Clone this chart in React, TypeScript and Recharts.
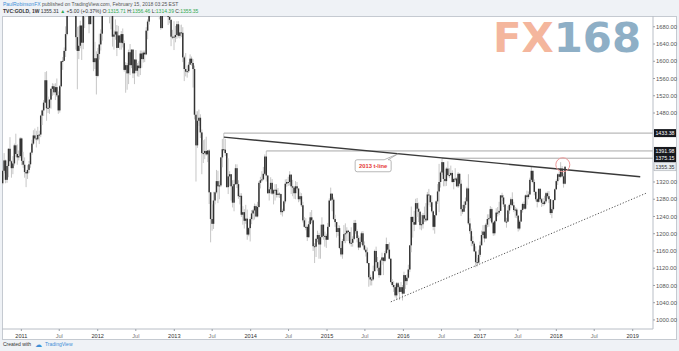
import { ComposedChart, Bar, XAxis, YAxis, ReferenceLine, ReferenceDot } from "recharts";

// weekly bars, first bar = week of 2010-10-04
const START = "2010-10-04";
const WEEK = 7 * 24 * 3600 * 1000;
const firstOpen = 1317;

const closes = [
  1346, 1370, 1325, 1357, 1397, 1368, 1352, 1363, 1405, 1385, 1377, 1380, 1421,
  1369, 1360, 1343, 1340, 1348, 1361, 1388, 1409, 1428, 1421, 1419, 1429, 1430, 1474, 1486, 1504, 1556, 1491, 1492, 1511, 1536, 1542, 1528, 1540, 1521, 1486, 1542, 1600, 1601, 1624, 1663, 1743, 1852, 1828, 1877, 1856, 1813, 1656, 1624, 1636, 1683, 1643, 1745, 1755, 1788, 1724, 1686, 1746, 1713, 1598, 1607, 1566,
  1617, 1639, 1664, 1737, 1725, 1725, 1736, 1774, 1710, 1711, 1657, 1662, 1669, 1631, 1660, 1643, 1663, 1642, 1580, 1591, 1572, 1621, 1591, 1627, 1572, 1604, 1578, 1590, 1584, 1618, 1605, 1620, 1616, 1671, 1692, 1741, 1771, 1773, 1773, 1780, 1757, 1724, 1711, 1677, 1730, 1714, 1752, 1714, 1703, 1696, 1657, 1657, 1656,
  1661, 1686, 1659, 1667, 1666, 1609, 1582, 1576, 1577, 1592, 1606, 1596, 1582, 1476, 1405, 1462, 1469, 1435, 1387, 1387, 1392, 1384, 1393, 1296, 1234, 1223, 1277, 1296, 1322, 1310, 1312, 1377, 1396, 1395, 1387, 1308, 1333, 1338, 1310, 1272, 1315, 1352, 1315, 1287, 1288, 1244, 1250, 1230, 1235, 1198, 1213, 1234,
  1247, 1254, 1264, 1240, 1262, 1318, 1324, 1326, 1339, 1379, 1335, 1294, 1303, 1318, 1293, 1301, 1302, 1290, 1293, 1292, 1250, 1253, 1275, 1316, 1320, 1320, 1337, 1310, 1307, 1294, 1310, 1305, 1280, 1287, 1266, 1231, 1216, 1216, 1192, 1222, 1238, 1231, 1171, 1170, 1188, 1197, 1175, 1192, 1221, 1195, 1195, 1186,
  1216, 1277, 1293, 1279, 1234, 1227, 1204, 1213, 1167, 1152, 1183, 1199, 1201, 1207, 1204, 1178, 1179, 1188, 1225, 1206, 1190, 1168, 1181, 1201, 1173, 1163, 1157, 1132, 1099, 1094, 1094, 1113, 1160, 1134, 1121, 1104, 1138, 1145, 1137, 1155, 1176, 1163, 1142, 1088, 1081, 1076, 1057, 1085, 1076, 1065, 1076, 1061,
  1104, 1090, 1098, 1117, 1173, 1239, 1227, 1221, 1271, 1258, 1251, 1220, 1222, 1243, 1235, 1231, 1291, 1289, 1273, 1252, 1216, 1243, 1275, 1298, 1320, 1342, 1366, 1327, 1322, 1351, 1336, 1336, 1341, 1320, 1327, 1328, 1310, 1339, 1316, 1257, 1251, 1267, 1275, 1305, 1224, 1206, 1183, 1177, 1159, 1134, 1133, 1151,
  1173, 1197, 1205, 1189, 1221, 1234, 1236, 1257, 1226, 1201, 1229, 1249, 1249, 1253, 1289, 1284, 1268, 1228, 1228, 1254, 1267, 1280, 1266, 1255, 1256, 1242, 1212, 1228, 1255, 1269, 1258, 1289, 1285, 1291, 1325, 1346, 1320, 1297, 1280, 1274, 1304, 1280, 1272, 1269, 1275, 1294, 1287, 1280, 1248, 1257, 1278, 1303,
  1322, 1338, 1332, 1351, 1333, 1316, 1355.35,
];

const highs = [
  1349, 1387, 1372, 1360, 1398, 1424, 1370, 1380, 1409, 1432, 1407, 1393, 1424,
  1423, 1390, 1377, 1346, 1359, 1369, 1390, 1418, 1440, 1444, 1439, 1448, 1439, 1476, 1488, 1510, 1575, 1577, 1518, 1512, 1538, 1549, 1548, 1549, 1560, 1530, 1545, 1600, 1610, 1632, 1681, 1814, 1878, 1913, 1890, 1921, 1838, 1833, 1680, 1681, 1694, 1671, 1748, 1765, 1802, 1791, 1728, 1761, 1763, 1715, 1645, 1623,
  1631, 1664, 1674, 1740, 1764, 1761, 1745, 1790, 1792, 1727, 1714, 1672, 1697, 1684, 1682, 1654, 1670, 1676, 1648, 1598, 1596, 1627, 1640, 1628, 1628, 1605, 1626, 1596, 1600, 1625, 1625, 1625, 1625, 1679, 1697, 1743, 1777, 1780, 1787, 1796, 1788, 1754, 1728, 1723, 1738, 1736, 1754, 1755, 1725, 1723, 1698, 1673, 1693,
  1682, 1693, 1693, 1684, 1685, 1679, 1613, 1619, 1590, 1598, 1616, 1611, 1605, 1590, 1484, 1484, 1488, 1477, 1442, 1417, 1419, 1425, 1394, 1396, 1297, 1268, 1297, 1298, 1348, 1346, 1323, 1378, 1420, 1433.38, 1420, 1387, 1375, 1345, 1338, 1324, 1325, 1361, 1361, 1324, 1294, 1294, 1264, 1257, 1267, 1256, 1215, 1238,
  1255, 1257, 1270, 1268, 1274, 1322, 1332, 1345, 1355, 1384, 1391.98, 1336, 1308, 1331, 1327, 1304, 1315, 1315, 1306, 1296, 1293, 1258, 1277, 1326, 1327, 1332, 1345, 1338, 1325, 1311, 1322, 1320, 1302, 1296, 1294, 1274, 1239, 1236, 1221, 1229, 1250, 1255, 1233, 1178, 1190, 1207, 1202, 1221, 1238, 1222, 1205, 1200,
  1225, 1282, 1307, 1292, 1284, 1244, 1226, 1220, 1219, 1175, 1188, 1220, 1224, 1215, 1209, 1205, 1215, 1194, 1232, 1232, 1210, 1196, 1193, 1205, 1206, 1182, 1170, 1168, 1132, 1105, 1100, 1126, 1163, 1170, 1146, 1124, 1141, 1156, 1140, 1160, 1191, 1176, 1180, 1143, 1095, 1090, 1080, 1088, 1088, 1080, 1088, 1081,
  1112, 1100, 1106, 1128, 1174, 1263, 1240, 1253, 1281, 1283, 1272, 1253, 1244, 1248, 1263, 1271, 1297, 1304, 1289, 1289, 1254, 1243, 1277, 1315, 1362, 1345, 1375.15, 1357, 1336, 1354, 1368, 1352, 1358, 1347, 1330, 1352, 1331, 1343, 1340, 1325, 1267, 1275, 1284, 1309, 1338, 1236, 1212, 1194, 1181, 1171, 1144, 1163,
  1182, 1207, 1220, 1220, 1225, 1245, 1245, 1264, 1261, 1228, 1232, 1259, 1262, 1274, 1289, 1295, 1290, 1268, 1237, 1264, 1270, 1284, 1296, 1274, 1262, 1260, 1242, 1232, 1257, 1272, 1275, 1291, 1300, 1298, 1330, 1357, 1338, 1326, 1299, 1283, 1306, 1306, 1283, 1283, 1288, 1297, 1298, 1299, 1280, 1261, 1279, 1305,
  1326, 1340, 1344, 1366, 1357, 1340, 1356.46,
];

const lows = [
  1313, 1340, 1317, 1318, 1331, 1366, 1330, 1338, 1358, 1378, 1360, 1370, 1376,
  1359, 1353, 1330, 1308, 1327, 1341, 1353, 1383, 1406, 1416, 1400, 1416, 1408, 1424, 1452, 1473, 1503, 1462, 1480, 1478, 1490, 1520, 1522, 1510, 1517, 1478, 1481, 1540, 1580, 1601, 1610, 1660, 1740, 1705, 1795, 1813, 1777, 1627, 1535, 1605, 1630, 1603, 1628, 1677, 1734, 1711, 1665, 1689, 1705, 1577, 1582, 1523,
  1563, 1604, 1625, 1648, 1709, 1708, 1705, 1731, 1688, 1674, 1634, 1627, 1650, 1612, 1639, 1627, 1627, 1632, 1576, 1527, 1534, 1547, 1568, 1584, 1561, 1547, 1573, 1565, 1564, 1568, 1585, 1597, 1598, 1614, 1651, 1685, 1722, 1754, 1749, 1765, 1754, 1718, 1697, 1673, 1676, 1704, 1714, 1705, 1684, 1688, 1635, 1651, 1626,
  1644, 1652, 1655, 1653, 1656, 1598, 1554, 1565, 1562, 1573, 1600, 1590, 1539, 1465, 1321, 1399, 1450, 1422, 1338, 1364, 1373, 1381, 1366, 1269, 1180, 1207, 1211, 1268, 1293, 1271, 1280, 1308, 1354, 1391, 1380, 1307, 1292, 1310, 1277, 1261, 1252, 1313, 1306, 1281, 1268, 1239, 1221, 1212, 1223, 1186, 1194, 1182,
  1222, 1231, 1233, 1238, 1238, 1260, 1305, 1320, 1324, 1336, 1321, 1292, 1277, 1293, 1290, 1268, 1277, 1284, 1284, 1283, 1244, 1240, 1250, 1270, 1309, 1311, 1312, 1292, 1287, 1281, 1280, 1301, 1273, 1275, 1262, 1226, 1214, 1208, 1183, 1190, 1222, 1225, 1160, 1132, 1146, 1180, 1142, 1142, 1193, 1186, 1170, 1167,
  1186, 1220, 1276, 1252, 1232, 1216, 1191, 1195, 1164, 1147, 1142, 1178, 1178, 1183, 1183, 1175, 1170, 1170, 1185, 1200, 1180, 1162, 1170, 1175, 1170, 1160, 1147, 1130, 1077, 1080, 1080, 1091, 1113, 1117, 1113, 1098, 1103, 1128, 1104, 1134, 1152, 1159, 1140, 1085, 1077, 1065, 1052, 1046, 1061, 1046, 1066, 1045,
  1061, 1072, 1081, 1096, 1111, 1157, 1191, 1206, 1225, 1239, 1227, 1210, 1208, 1212, 1227, 1227, 1232, 1266, 1262, 1249, 1208, 1200, 1241, 1269, 1250, 1307, 1336, 1310, 1310, 1311, 1333, 1329, 1334, 1318, 1303, 1322, 1308, 1306, 1310, 1241, 1246, 1252, 1259, 1275, 1220, 1200, 1171, 1171, 1158, 1122, 1124, 1131,
  1146, 1175, 1190, 1180, 1189, 1215, 1216, 1229, 1223, 1195, 1196, 1229, 1240, 1243, 1253, 1276, 1262, 1226, 1214, 1228, 1246, 1259, 1264, 1250, 1237, 1236, 1205, 1208, 1231, 1249, 1256, 1256, 1267, 1280, 1291, 1320, 1317, 1289, 1275, 1261, 1272, 1276, 1262, 1264, 1266, 1271, 1282, 1271, 1244, 1236, 1254, 1277,
  1302, 1313, 1325, 1329, 1331, 1307, 1314.39,
];

const yTicks = [1000, 1040, 1080, 1120, 1160, 1200, 1240, 1280, 1320, 1480, 1520, 1560, 1600, 1640, 1680];
const xTickDates = [
  "2011-01-01", "2011-07-01", "2012-01-01", "2012-07-01", "2013-01-01", "2013-07-01",
  "2014-01-01", "2014-07-01", "2015-01-01", "2015-07-01", "2016-01-01", "2016-07-01",
  "2017-01-01", "2017-07-01", "2018-01-01", "2018-07-01", "2019-01-01",
];

// horizontal levels drawn from the bar that made them
const levels = [1433.38, 1391.98, 1375.15];
const levelFrom = ["2013-08-26", "2014-03-17", "2016-07-04"];
const lastPrice = 1355.35;

const tLine: [string, number][] = [["2013-08-26", 1424], ["2019-02-06", 1332]];
const supportLine: [string, number][] = [["2015-11-02", 1042], ["2019-03-11", 1295]];
const calloutAt = "2015-12-07";
const circleAt: [string, number] = ["2018-02-01", 1360];

const idx = (d: string) => (Date.parse(d) - Date.parse(START)) / WEEK;
const X_MAX = 444;

const data = closes.map((c, i) => ({
  i,
  o: i === 0 ? firstOpen : closes[i - 1],
  h: highs[i],
  l: lows[i],
  c,
}));

const FONT = "'Liberation Sans', Arial, sans-serif";

const Candle = (props: any) => {
  const { x, y, width, height, payload } = props;
  if (!payload || !Number.isFinite(y) || !Number.isFinite(height)) return null;
  const { o, h, l, c } = payload;
  const top = height >= 0 ? y : y + height;
  const span = Math.abs(height);
  const ppu = h > l ? span / (h - l) : 0;
  const cx = x + width / 2;
  const bTop = top + (h - Math.max(o, c)) * ppu;
  const bH = Math.max(1, Math.abs(o - c) * ppu);
  return (
    <g>
      <line x1={cx} x2={cx} y1={top} y2={top + span} stroke="#c6c6c6" strokeWidth={1} />
      <rect x={cx - 0.75} y={bTop} width={1.5} height={bH} fill="#333" />
    </g>
  );
};

const XTick = (props: any) => {
  const { x, y, payload } = props;
  const d = xTickDates[payload.index] ?? "";
  const isYear = d.slice(5, 7) === "01";
  const label = isYear ? d.slice(0, 4) : "Jul";
  return (
    <text x={x} y={y + 5} textAnchor="middle" fontSize={5.6} fontFamily={FONT} fill={isYear ? "#333" : "#777"}>
      {label}
    </text>
  );
};

const PriceTag = (props: any) => {
  const { viewBox, value, light } = props;
  if (!viewBox) return null;
  const x = viewBox.x + viewBox.width + 1;
  const y = viewBox.y;
  return (
    <g>
      <rect x={x} y={y - 4} width={22} height={8} fill={light ? "#eceff3" : "#16181d"} stroke={light ? "#a9adb3" : "none"} strokeWidth={0.6} />
      <text x={x + 11} y={y + 2} textAnchor="middle" fontSize={5.3} fontFamily={FONT} fill={light ? "#333" : "#fff"}>
        {value.toFixed(2)}
      </text>
    </g>
  );
};

const Callout = (props: any) => {
  const { cx, cy } = props;
  if (!Number.isFinite(cx)) return null;
  const L = cx - 43, R = cx - 7, T = cy + 6, B = cy + 18, r = 2;
  const path = `M${L + r},${T} H${R - 7} L${cx},${cy} L${R - 3},${T} H${R - r} Q${R},${T} ${R},${T + r} V${B - r} Q${R},${B} ${R - r},${B} H${L + r} Q${L},${B} ${L},${B - r} V${T + r} Q${L},${T} ${L + r},${T} Z`;
  return (
    <g>
      <path d={path} fill="#fff" stroke="#9a9a9a" strokeWidth={0.7} />
      <text x={(L + R) / 2} y={(T + B) / 2 + 2} textAnchor="middle" fontSize={5.8} fontWeight="bold" fontFamily={FONT} fill="#e53935">
        2013 t-line
      </text>
    </g>
  );
};

const tAt = (d: string) => {
  const [a, b] = tLine;
  const t = (idx(d) - idx(a[0])) / (idx(b[0]) - idx(a[0]));
  return a[1] + (b[1] - a[1]) * t;
};

export default function App() {
  return (
    <div style={{ position: "fixed", left: 0, top: 0, width: 679, height: 351, background: "#eff2f6", overflow: "hidden" }}>
      <div style={{ position: "absolute", left: 2, top: 16, width: 675, height: 324, background: "#fff", border: "1px solid #c5cad1", boxSizing: "border-box" }} />
      <div style={{ position: "absolute", left: 0, top: 0 }}>
        <ComposedChart width={679} height={351} data={data} margin={{ top: 16, right: 3, bottom: 12, left: 2 }}>
          <XAxis
            type="number"
            dataKey="i"
            domain={[-0.5, X_MAX]}
            allowDataOverflow
            ticks={xTickDates.map(idx)}
            interval={0}
            tick={<XTick />}
            tickSize={2}
            tickLine={{ stroke: "#9aa0a8" }}
            axisLine={{ stroke: "#b9bec6" }}
            height={10}
          />
          <YAxis
            orientation="right"
            domain={[979, 1705]}
            allowDataOverflow
            ticks={yTicks}
            interval={0}
            tickFormatter={(v: number) => v.toFixed(2)}
            tick={{ fontSize: 5.8, fill: "#555", fontFamily: FONT }}
            tickSize={2}
            tickMargin={1}
            tickLine={{ stroke: "#9aa0a8" }}
            axisLine={{ stroke: "#b9bec6" }}
            width={23}
          />
          <Bar dataKey={(d: any) => [d.l, d.h]} shape={<Candle />} isAnimationActive={false} />
          {levels.map((v, k) => (
            <ReferenceLine
              key={"lv" + k}
              segment={[{ x: idx(levelFrom[k]), y: v }, { x: X_MAX, y: v }]}
              stroke="#a8a8a8"
              strokeWidth={1}
            />
          ))}
          {levels.map((v, k) => (
            <ReferenceLine key={"tag" + k} y={v} stroke="none" label={<PriceTag value={v} />} />
          ))}
          <ReferenceLine y={lastPrice} stroke="none" label={<PriceTag value={lastPrice} light />} />
          <ReferenceLine
            segment={tLine.map(([d, v]) => ({ x: idx(d), y: v }))}
            stroke="#3a3a3a"
            strokeWidth={1.4}
          />
          <ReferenceLine
            segment={supportLine.map(([d, v]) => ({ x: idx(d), y: v }))}
            stroke="#555"
            strokeWidth={1}
            strokeDasharray="1.2 1.8"
          />
          <ReferenceDot x={idx(calloutAt)} y={tAt(calloutAt)} r={0} shape={<Callout />} />
          <ReferenceDot x={idx(circleAt[0])} y={circleAt[1]} r={7} fill="none" stroke="#f19a9a" strokeWidth={1} />
        </ComposedChart>
      </div>
      <svg width={679} height={351} style={{ position: "absolute", left: 0, top: 0, pointerEvents: "none" }}>
        <text x={3} y={6} fontSize={5} fontFamily={FONT}>
          <tspan fill="#3d8fd6">PaulRobinsonFX</tspan>
          <tspan fill="#555"> published on TradingView.com, February 15, 2018 03:25 EST</tspan>
        </text>
        <text x={3} y={13} fontSize={5} fontFamily={FONT} fill="#333">
          <tspan fontWeight="bold">TVC:GOLD, 1W </tspan>
          <tspan>1355.31 </tspan>
          <tspan fill="#2fa84f">▲</tspan>
          <tspan> +5.00 (+0.37%) O:</tspan>
          <tspan fill="#2fa84f">1315.71</tspan>
          <tspan> H:</tspan>
          <tspan fill="#2fa84f">1356.46</tspan>
          <tspan> L:</tspan>
          <tspan fill="#2fa84f">1314.39</tspan>
          <tspan> C:</tspan>
          <tspan fill="#2fa84f">1355.35</tspan>
        </text>
        <text x={493} y={52} fontSize={41} fontWeight="bold" fontFamily="'DejaVu Sans', sans-serif" textLength={148} lengthAdjust="spacingAndGlyphs">
          <tspan fill="#f4b69d">FX</tspan>
          <tspan fill="#8eafc6">168</tspan>
        </text>
        <text x={3} y={346} fontSize={5} fontFamily={FONT} fill="#333">Created with</text>
        <text x={35} y={346.5} fontSize={7} fontFamily="'DejaVu Sans', sans-serif" fill="#3d8fd6">☁</text>
        <text x={45} y={346} fontSize={5} fontFamily={FONT} fill="#3d8fd6">TradingView</text>
      </svg>
    </div>
  );
}
